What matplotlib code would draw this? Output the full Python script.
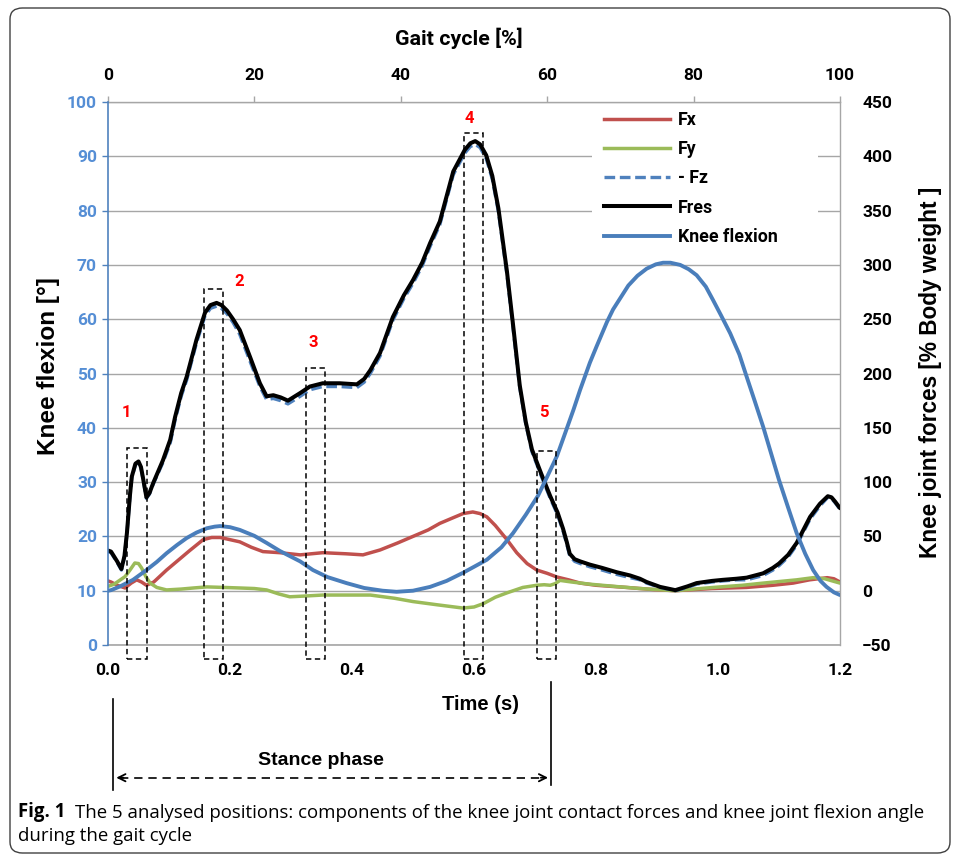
import matplotlib
matplotlib.use("Agg")
import matplotlib.pyplot as plt
from matplotlib.patches import Rectangle, FancyBboxPatch
from matplotlib.lines import Line2D
from matplotlib.font_manager import FontProperties
from matplotlib.transforms import blended_transform_factory

# ── data ─────────────────────────────────────────────────────────────────────
t_res = [0.000, 0.005, 0.015, 0.022, 0.027, 0.031, 0.036, 0.039, 0.045, 0.050,
         0.054, 0.057, 0.063, 0.068, 0.074, 0.090, 0.102, 0.110, 0.120, 0.129,
         0.145, 0.159, 0.168, 0.178, 0.186, 0.195, 0.205, 0.216, 0.233, 0.249,
         0.260, 0.271, 0.283, 0.295, 0.315, 0.331, 0.352, 0.380, 0.408, 0.420,
         0.430, 0.446, 0.467, 0.485, 0.500, 0.515, 0.528, 0.544, 0.566, 0.585,
         0.594, 0.602, 0.610, 0.620, 0.630, 0.640, 0.654, 0.665, 0.675, 0.685,
         0.695, 0.710, 0.725, 0.737, 0.746, 0.752, 0.757, 0.765, 0.774, 0.790,
         0.810, 0.834, 0.856, 0.872, 0.883, 0.905, 0.930, 0.950, 0.965, 0.990,
         1.008, 1.030, 1.047, 1.074, 1.090, 1.100, 1.115, 1.129, 1.151, 1.167,
         1.180, 1.186, 1.192, 1.200]
fres = [37, 36, 27, 20, 32, 53, 88, 105, 117, 119,
        114, 105, 86, 90, 99, 120, 139, 160, 182, 197,
        231, 256, 263, 265, 263, 258, 250, 240, 215, 191,
        179, 180, 178, 175, 182, 188, 191, 191, 190, 195,
        203, 219, 252, 272, 286, 302, 320, 340, 386, 406,
        412, 414, 411, 401, 382, 352, 294, 240, 189, 155,
        130, 108, 87, 72, 57, 45, 34, 29, 27, 24,
        21, 17, 14, 11, 8, 3.5, 0.5, 4, 7, 9,
        10, 11, 12, 16, 21, 25, 33, 44, 68, 80,
        87, 86, 82, 76]
minus_fz = [36, 35, 26, 19, 31, 52, 87, 104, 116, 118,
            113, 104, 85, 89, 98, 118, 136, 157, 179, 194,
            228, 253, 260, 262, 260, 255, 247, 236, 211, 188,
            176, 177, 175, 172, 179, 185, 188, 188, 187, 192,
            200, 216, 249, 269, 283, 299, 317, 337, 383, 403,
            409, 411, 408, 398, 379, 349, 291, 237, 187, 153,
            128, 106, 85, 70, 55, 43, 32, 27, 25, 22,
            19, 15, 12, 10, 7, 3, 0, 3, 6, 8,
            9, 10, 10, 14, 19, 23, 31, 42, 66, 78,
            86, 85, 81, 75]

t_fx = [0.000, 0.005, 0.015, 0.028, 0.038, 0.047, 0.055, 0.063, 0.075, 0.096,
        0.115, 0.134, 0.156, 0.170, 0.184, 0.200, 0.216, 0.235, 0.254, 0.282,
        0.315, 0.352, 0.390, 0.418, 0.446, 0.475, 0.500, 0.525, 0.544, 0.565,
        0.582, 0.598, 0.610, 0.621, 0.635, 0.654, 0.670, 0.687, 0.703, 0.720,
        0.736, 0.755, 0.774, 0.800, 0.850, 0.895, 0.930, 0.990, 1.047, 1.090,
        1.123, 1.150, 1.179, 1.190, 1.200]
fx = [9, 8, 5, 2.5, 7, 10, 8, 5, 8, 19,
      28, 37, 47, 49, 49, 47, 45, 40, 36, 35,
      33, 35, 34, 33, 37.5, 44, 50, 56, 62, 67,
      71, 72.5, 71, 68, 60, 47, 35, 25, 19, 16,
      12.6, 10, 7, 5, 3, 1, 0, 2, 3, 5,
      7, 10, 12, 11, 8]

t_fy = [0.000, 0.010, 0.028, 0.036, 0.044, 0.050, 0.055, 0.062, 0.069, 0.080,
        0.096, 0.120, 0.140, 0.162, 0.190, 0.216, 0.240, 0.260, 0.280, 0.298,
        0.320, 0.352, 0.390, 0.430, 0.470, 0.500, 0.540, 0.582, 0.600, 0.615,
        0.635, 0.654, 0.680, 0.703, 0.715, 0.725, 0.733, 0.741, 0.760, 0.790,
        0.830, 0.872, 0.930, 0.992, 1.040, 1.074, 1.129, 1.156, 1.175, 1.200]
fy = [4, 6, 13, 19, 25.5, 25, 21, 13, 7, 3,
      0.7, 1.5, 2.5, 3.5, 3, 2.5, 2, 0.7, -3, -5.6,
      -5, -4, -4, -4, -7, -10, -13, -16, -15, -12,
      -6, -2, 3, 5, 5.5, 5, 6.5, 9.5, 8, 6,
      4, 2, 0, 3, 5, 7, 10, 12, 11, 7]

t_knee = [0.000, 0.005, 0.020, 0.041, 0.063, 0.080, 0.096, 0.113, 0.129, 0.145,
          0.162, 0.175, 0.184, 0.200, 0.216, 0.240, 0.260, 0.282, 0.315, 0.336,
          0.360, 0.391, 0.420, 0.450, 0.473, 0.500, 0.528, 0.555, 0.582, 0.600,
          0.621, 0.645, 0.664, 0.685, 0.705, 0.720, 0.736, 0.750, 0.763, 0.774,
          0.790, 0.801, 0.818, 0.828, 0.853, 0.868, 0.883, 0.898, 0.910, 0.922,
          0.938, 0.952, 0.965, 0.980, 0.992, 1.005, 1.020, 1.035, 1.047, 1.060,
          1.074, 1.087, 1.100, 1.115, 1.129, 1.143, 1.156, 1.168, 1.178, 1.190,
          1.200]
knee = [10, 10.1, 10.8, 12, 13.8, 15.3, 16.9, 18.4, 19.7, 20.7,
        21.5, 21.8, 21.9, 21.7, 21.2, 20.1, 18.8, 17.3, 15.4, 13.8,
        12.5, 11.4, 10.5, 10, 9.8, 10, 10.7, 11.8, 13.3, 14.4,
        15.7, 18, 20.6, 24, 27.5, 31, 34.8, 39.2, 43.3, 47,
        52, 55, 59.5, 61.8, 66.2, 68, 69.3, 70.1, 70.4, 70.4,
        70, 69.2, 68.1, 66, 63.5, 60.7, 57.4, 53.5, 49.4, 45,
        40.2, 35.3, 30.4, 25.3, 20.6, 16.8, 13.8, 11.8, 10.7, 9.7,
        9.2]

# analysed positions: label, t0, t1, knee-angle top
positions = [("1", 0.0307, 0.0634, 36.3),
             ("2", 0.1574, 0.1880, 65.6),
             ("3", 0.3246, 0.3557, 51.0),
             ("4", 0.5840, 0.6153, 94.3),
             ("5", 0.7028, 0.7344, 35.7)]
label_xy = [(0.0295, 42.9), (0.215, 67.0), (0.336, 55.8), (0.592, 96.9), (0.715, 42.9)]

# ── palette ──────────────────────────────────────────────────────────────────
RED = "#C0504D"
GREEN = "#9BBB59"
BLUE = "#4F81BD"
KNEE = "#4A7EBB"
TICKBLUE = "#558ED5"
GRID = "#A6A6A6"
FONT = "Roboto"
ARIAL = "Liberation Sans"
W, H = 958, 856


def fx_(px):
    return px / W


def fy_(py):
    return 1 - py / H


fig = plt.figure(figsize=(W / 100, H / 100), dpi=100)
fig.patch.set_facecolor("white")

ax = fig.add_axes([fx_(108), fy_(645), 732 / W, 543 / H])
ax2 = ax.twinx()

# forces on the primary axis (ticks on the right)
ax.plot(t_fx, fx, color=RED, lw=2.5, solid_capstyle="round", label="Fx", zorder=3)
ax.plot(t_fy, fy, color=GREEN, lw=2.5, solid_capstyle="round", label="Fy", zorder=4)
ax.plot(t_res, minus_fz, color=BLUE, lw=2.4, dashes=(3.2, 1.4), label="- Fz", zorder=5)
ax.plot(t_res, fres, color="black", lw=2.9, solid_capstyle="round", label="Fres", zorder=6)
ax2.plot(t_knee, knee, color=KNEE, lw=2.8, solid_capstyle="round", label="Knee flexion", zorder=3)

ax.set_xlim(0, 1.2)
ax.set_ylim(-50, 450)
ax2.set_ylim(0, 100)
ax.set_xticks([0, 0.2, 0.4, 0.6, 0.8, 1.0, 1.2])
ax.set_xticklabels(["0.0", "0.2", "0.4", "0.6", "0.8", "1.0", "1.2"])
ax.set_yticks(range(-50, 451, 50))
ax2.set_yticks(range(0, 101, 10))

ax.yaxis.tick_right()
ax2.yaxis.tick_left()
ax.grid(axis="y", color=GRID, lw=1.0, zorder=0)
ax.set_axisbelow(True)

# white patch behind the legend hides the grid there
ax.add_patch(Rectangle((fx_(592), fy_(251)), 226 / W, 147 / H, transform=fig.transFigure,
                       facecolor="white", edgecolor="none", zorder=1))

for s in ("left", "top"):
    ax.spines[s].set_visible(False)
ax.spines["right"].set_color(GRID)
ax.spines["bottom"].set_color(GRID)
ax.spines["bottom"].set_linewidth(1.2)
ax.spines["right"].set_linewidth(1.0)
for s in ("right", "top", "bottom"):
    ax2.spines[s].set_visible(False)
ax2.spines["left"].set_color(BLUE)
ax2.spines["left"].set_linewidth(1.2)

tickfont = FontProperties(family=FONT, weight="bold", size=12.5)
ax.tick_params(axis="x", length=0, pad=13)
ax.tick_params(axis="y", length=0, pad=16)
ax2.tick_params(axis="y", length=4, width=1.0, color=BLUE, pad=4, labelcolor=TICKBLUE)
for lab in ax.get_xticklabels() + ax.get_yticklabels() + ax2.get_yticklabels():
    lab.set_fontproperties(tickfont)

# top axis: gait cycle
top = ax2.secondary_xaxis("top", functions=(lambda t: t / 1.2 * 100, lambda p: p * 1.2 / 100))
top.set_xticks([0, 20, 40, 60, 80, 100])
top.tick_params(axis="x", length=4.5, width=1.0, color=GRID, direction="out", pad=9)
top.spines["top"].set_color(GRID)
top.spines["top"].set_linewidth(1.0)
for lab in top.get_xticklabels():
    lab.set_fontproperties(tickfont)

# axis titles
fig.text(fx_(459), fy_(38), "Gait cycle [%]", ha="center", va="center",
         family=FONT, weight="bold", size=15.4)
fig.text(fx_(49), fy_(366), "Knee flexion [°]", ha="center", va="center", rotation=90,
         family=ARIAL, weight="bold", size=17.5)
fig.text(fx_(931), fy_(372), "Knee joint forces [% Body weight ]", ha="center", va="center",
         rotation=90, family=ARIAL, weight="bold", size=16.3)
fig.text(fx_(480), fy_(704), "Time (s)", ha="center", va="center",
         family=ARIAL, weight="bold", size=14.5)

# analysed position boxes
for (name, t0, t1, top_deg), (lx, ly) in zip(positions, label_xy):
    ax2.add_patch(Rectangle((t0, -2.5), t1 - t0, top_deg + 2.5, fill=False,
                            edgecolor="black", lw=1.1, linestyle=(0, (3.5, 2.3)),
                            clip_on=False, zorder=8))
    ax2.text(lx, ly, name, color="red", ha="center", va="center",
             family=FONT, weight="bold", size=12, zorder=9)

# legend
handles = [Line2D([], [], color=RED, lw=2.5),
           Line2D([], [], color=GREEN, lw=2.5),
           Line2D([], [], color=BLUE, lw=2.4, dashes=(3.2, 1.4)),
           Line2D([], [], color="black", lw=2.9),
           Line2D([], [], color=KNEE, lw=2.8)]
leg = ax2.legend(handles, ["Fx", "Fy", "- Fz", "Fres", "Knee flexion"],
                 loc="upper left", bbox_to_anchor=(fx_(596), fy_(103)),
                 bbox_transform=fig.transFigure, frameon=False,
                 borderpad=0.45, borderaxespad=0, handlelength=3.7,
                 handletextpad=0.45, labelspacing=0.63,
                 prop=FontProperties(family=FONT, weight="bold", size=12.8))
leg.set_zorder(10)

# stance phase annotation
trans = blended_transform_factory(ax.transData, ax.transAxes)
ax.plot([0.009, 0.009], [-0.099, -0.267], color="black", lw=1.2, transform=trans, clip_on=False)
ax.plot([0.726, 0.726], [-0.068, -0.258], color="black", lw=1.2, transform=trans, clip_on=False)
ax.plot([0.02, 0.715], [-0.2444, -0.2444], color="black", lw=1.2, linestyle=(0, (5, 3.5)),
        transform=trans, clip_on=False)
for x0, x1 in ((0.03, 0.009), (0.705, 0.726)):
    ax.annotate("", xy=(x1, -0.2444), xytext=(x0, -0.2444), xycoords=trans, textcoords=trans,
                arrowprops=dict(arrowstyle="->", color="black", lw=1.3, mutation_scale=13),
                annotation_clip=False)
ax.text(0.349, -0.2136, "Stance phase", transform=trans, ha="center", va="center",
        family=ARIAL, weight="bold", size=14)

# caption
CAP = 13.4
cap1 = fig.text(fx_(18), fy_(812), "Fig. 1", ha="left", va="center",
                family="Open Sans", weight="bold", size=CAP)
ax.annotate("The 5 analysed positions: components of the knee joint contact forces and knee joint flexion angle",
            xy=(1, 0), xycoords=cap1, xytext=(7, 0), textcoords="offset points",
            ha="left", va="bottom", family="Open Sans", size=CAP, annotation_clip=False)
fig.text(fx_(18), fy_(836), "during the gait cycle", ha="left", va="center",
         family="Open Sans", size=CAP)

# frame around the figure
fig.add_artist(FancyBboxPatch((fx_(10), fy_(853)), 940 / W, 845 / H,
                              boxstyle="round,pad=0,rounding_size=0.013",
                              transform=fig.transFigure, fill=False,
                              edgecolor="#404040", lw=1.0))

fig.savefig("out.png", dpi=100, facecolor="white")
